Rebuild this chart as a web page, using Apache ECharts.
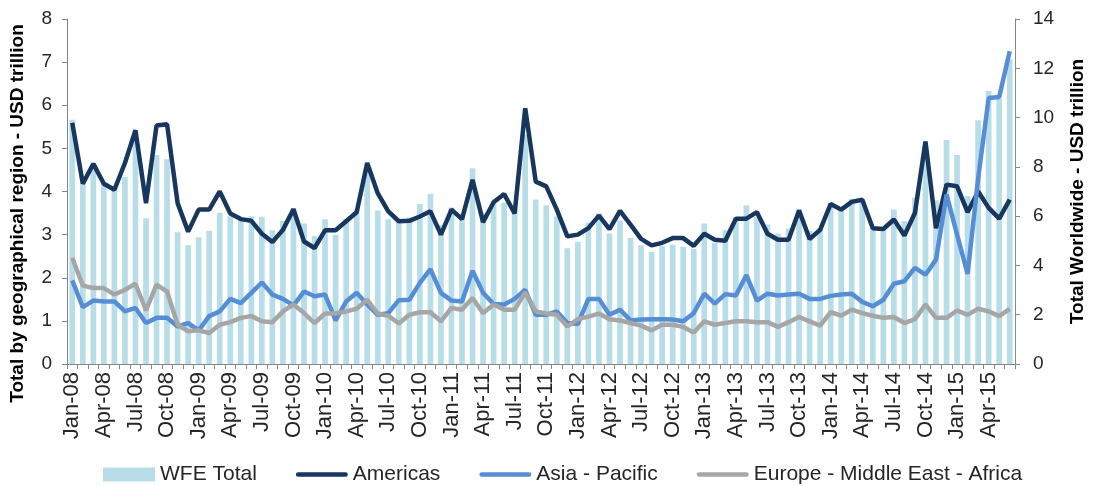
<!DOCTYPE html>
<html>
<head>
<meta charset="utf-8">
<script src="https://cdn.jsdelivr.net/npm/echarts@6/dist/echarts.min.js"></script>
<style>
html,body{margin:0;padding:0;background:#fff;}
#chart{width:1095px;height:486px;}
</style>
</head>
<body>
<div id="chart"></div>
<script>
const categories = [
"Jan-08","Feb-08","Mar-08","Apr-08","May-08","Jun-08","Jul-08","Aug-08","Sep-08","Oct-08","Nov-08","Dec-08",
"Jan-09","Feb-09","Mar-09","Apr-09","May-09","Jun-09","Jul-09","Aug-09","Sep-09","Oct-09","Nov-09","Dec-09",
"Jan-10","Feb-10","Mar-10","Apr-10","May-10","Jun-10","Jul-10","Aug-10","Sep-10","Oct-10","Nov-10","Dec-10",
"Jan-11","Feb-11","Mar-11","Apr-11","May-11","Jun-11","Jul-11","Aug-11","Sep-11","Oct-11","Nov-11","Dec-11",
"Jan-12","Feb-12","Mar-12","Apr-12","May-12","Jun-12","Jul-12","Aug-12","Sep-12","Oct-12","Nov-12","Dec-12",
"Jan-13","Feb-13","Mar-13","Apr-13","May-13","Jun-13","Jul-13","Aug-13","Sep-13","Oct-13","Nov-13","Dec-13",
"Jan-14","Feb-14","Mar-14","Apr-14","May-14","Jun-14","Jul-14","Aug-14","Sep-14","Oct-14","Nov-14","Dec-14",
"Jan-15","Feb-15","Mar-15","Apr-15","May-15","Jun-15"
];

const wfeTotal = [
9.91,7.32,7.87,7.39,7.10,7.59,9.14,5.91,8.48,8.31,5.35,4.82,
5.14,5.41,6.14,6.00,5.84,6.00,5.98,5.43,5.80,6.33,5.70,5.19,
5.87,5.24,5.89,6.27,7.90,6.23,5.87,5.87,5.95,6.49,6.91,5.64,
6.35,6.07,7.94,6.12,6.52,6.54,6.26,9.31,6.68,6.44,6.00,4.70,
4.96,5.73,6.12,5.30,5.82,5.12,4.82,4.55,4.78,4.85,4.76,4.67,
5.70,4.92,5.43,5.95,6.44,5.96,5.66,5.30,5.50,6.28,5.40,5.51,
6.54,6.30,6.71,6.68,5.53,5.46,6.27,5.80,6.75,8.61,6.64,9.09,
8.48,6.82,9.89,11.08,10.77,12.37
];

const americas = [
5.59,4.18,4.64,4.18,4.04,4.66,5.42,3.73,5.53,5.56,3.73,3.07,
3.58,3.58,4.00,3.49,3.36,3.32,3.02,2.83,3.11,3.59,2.84,2.69,
3.10,3.10,3.31,3.52,4.66,3.96,3.54,3.31,3.32,3.42,3.54,3.00,
3.58,3.36,4.27,3.29,3.75,3.94,3.49,5.93,4.23,4.12,3.58,2.96,
3.00,3.15,3.44,3.13,3.55,3.23,2.90,2.75,2.81,2.92,2.92,2.74,
3.02,2.88,2.86,3.37,3.37,3.52,3.02,2.88,2.88,3.56,2.90,3.11,
3.71,3.58,3.76,3.81,3.15,3.13,3.35,2.98,3.50,5.16,3.15,4.16,
4.12,3.52,4.00,3.62,3.37,3.81
];

const asiaPacific = [
1.94,1.32,1.47,1.45,1.45,1.22,1.30,0.95,1.07,1.07,0.87,0.95,
0.78,1.11,1.22,1.51,1.41,1.65,1.89,1.61,1.51,1.36,1.68,1.57,
1.61,1.01,1.45,1.65,1.38,1.14,1.18,1.48,1.49,1.88,2.20,1.65,
1.47,1.45,2.16,1.65,1.39,1.38,1.51,1.72,1.14,1.14,1.22,0.95,
0.93,1.51,1.51,1.14,1.26,1.01,1.03,1.04,1.04,1.03,0.99,1.18,
1.63,1.40,1.62,1.59,2.06,1.47,1.63,1.59,1.61,1.63,1.51,1.51,
1.58,1.61,1.63,1.44,1.34,1.49,1.86,1.92,2.23,2.07,2.42,3.93,
3.00,2.09,4.30,6.17,6.19,7.25
];

const europeMEA = [
2.46,1.82,1.76,1.76,1.61,1.72,1.86,1.24,1.84,1.68,0.91,0.76,
0.78,0.72,0.91,0.97,1.07,1.11,0.99,0.97,1.22,1.38,1.18,0.95,
1.17,1.17,1.22,1.28,1.49,1.17,1.12,0.94,1.14,1.20,1.20,0.99,
1.30,1.26,1.53,1.18,1.38,1.26,1.26,1.66,1.22,1.17,1.14,0.87,
1.04,1.10,1.17,1.04,1.01,0.95,0.89,0.78,0.91,0.91,0.86,0.73,
0.99,0.91,0.95,0.99,0.99,0.97,0.97,0.86,0.97,1.09,0.99,0.89,
1.20,1.12,1.26,1.18,1.12,1.07,1.09,0.95,1.04,1.38,1.07,1.07,
1.24,1.14,1.28,1.22,1.11,1.28
];

const leftTicks = {min: 0, max: 8, interval: 1};
const rightTicks = {min: 0, max: 14, interval: 2};

const FONT = "'Liberation Sans', Arial, sans-serif";
const axisGray = '#868686';
const lineIcon = 'path://M2,0 L52,0 A2.5,2.5 0 0 1 52,5 L2,5 A2.5,2.5 0 0 1 2,0 Z';

const chart = echarts.init(document.getElementById('chart'), null, {renderer: 'canvas'});
chart.setOption({
  animation: false,
  backgroundColor: '#fff',
  textStyle: {fontFamily: FONT},
  grid: {left: 67, right: 76, top: 19, bottom: 122, containLabel: false},
  legend: {
    top: 459,
    left: 98,
    itemGap: 39,
    itemWidth: 52,
    itemHeight: 14,
    textStyle: {fontSize: 21, color: '#262626', fontFamily: FONT},
    data: [
      {name: 'WFE Total', icon: 'rect'},
      {name: 'Americas', icon: lineIcon},
      {name: 'Asia - Pacific', icon: lineIcon},
      {name: 'Europe - Middle East - Africa', icon: lineIcon}
    ]
  },
  xAxis: {
    type: 'category',
    data: categories,
    boundaryGap: true,
    axisLine: {lineStyle: {color: axisGray, width: 1}},
    axisTick: {show: true, interval: 0, length: 5, lineStyle: {color: axisGray}},
    axisLabel: {
      interval: 2,
      rotate: 90,
      fontSize: 22,
      color: '#262626',
      fontFamily: FONT,
      margin: 8
    },
    splitLine: {show: false}
  },
  yAxis: [
    {
      type: 'value',
      min: leftTicks.min, max: leftTicks.max, interval: leftTicks.interval,
      name: 'Total by geographical region - USD trillion',
      nameLocation: 'middle',
      nameGap: 40,
      nameTextStyle: {fontSize: 19, fontWeight: 'bold', color: '#000', fontFamily: FONT, padding: [0, 44, 0, 0]},
      axisLine: {show: true, lineStyle: {color: axisGray}},
      axisTick: {show: true, length: 5, lineStyle: {color: axisGray}},
      axisLabel: {fontSize: 19, color: '#262626', margin: 15, fontFamily: FONT},
      splitLine: {show: false}
    },
    {
      type: 'value',
      position: 'right',
      min: rightTicks.min, max: rightTicks.max, interval: rightTicks.interval,
      name: 'Total Worldwide - USD trillion',
      nameLocation: 'middle',
      nameGap: 53,
      nameTextStyle: {fontSize: 19, fontWeight: 'bold', color: '#000', fontFamily: FONT},
      axisLine: {show: true, lineStyle: {color: axisGray}},
      axisTick: {show: true, length: 5, lineStyle: {color: axisGray}},
      axisLabel: {fontSize: 19, color: '#262626', margin: 18, fontFamily: FONT},
      splitLine: {show: false}
    }
  ],
  series: [
    {
      name: 'WFE Total', type: 'bar', yAxisIndex: 1,
      data: wfeTotal,
      barCategoryGap: '46%',
      itemStyle: {color: '#b7dde8'},
      z: 1
    },
    {
      name: 'Americas', type: 'line', yAxisIndex: 0,
      data: americas, symbol: 'none',
      lineStyle: {color: '#17375e', width: 4.5},
      itemStyle: {color: '#17375e'},
      z: 3
    },
    {
      name: 'Asia - Pacific', type: 'line', yAxisIndex: 0,
      data: asiaPacific, symbol: 'none',
      lineStyle: {color: '#558ed5', width: 4.5},
      itemStyle: {color: '#558ed5'},
      z: 3
    },
    {
      name: 'Europe - Middle East - Africa', type: 'line', yAxisIndex: 0,
      data: europeMEA, symbol: 'none',
      lineStyle: {color: '#a6a6a6', width: 4.5},
      itemStyle: {color: '#a6a6a6'},
      z: 3
    }
  ]
});
</script>
</body>
</html>
